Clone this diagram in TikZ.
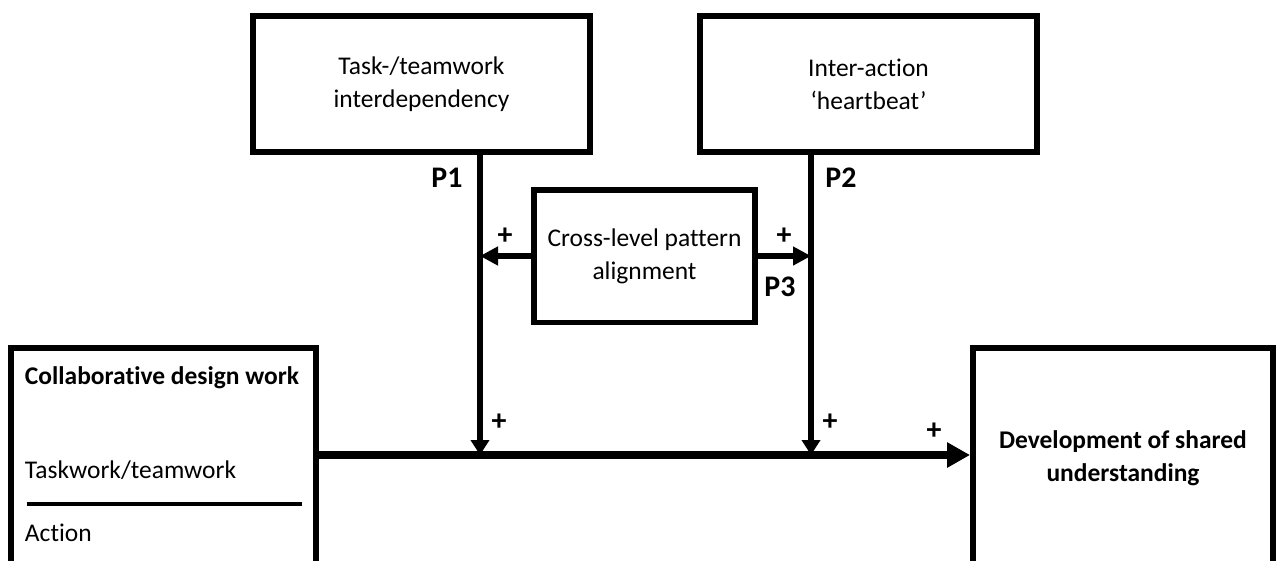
\documentclass[tikz,border=0pt]{standalone}
\usepackage{fontspec}
\setmainfont{Carlito}[Ligatures=NoCommon]
\usetikzlibrary{positioning}
\usetikzlibrary{calc}
\usetikzlibrary{arrows.meta}

\begin{document}
\begin{tikzpicture} [x=0.02cm, y=-0.02cm, line width=3.4pt,
    font=\fontsize{14.5}{18.7}\selectfont,
    box/.style={draw, rectangle, align=center, inner sep=0pt},
    lbl/.style={inner sep=0pt, font=\bfseries\fontsize{17}{20}\selectfont},
    txt/.style={anchor=base west, inner sep=0pt},
    down/.style={-{Triangle[length=0.3cm, width=0.36cm]}},
    side/.style={-{Triangle[length=0.36cm, width=0.36cm]}},
    main/.style={line width=4.5pt, -{Triangle[length=0.46cm, width=0.48cm]}}]

\useasboundingbox (0,0) rectangle (1281,561);

\node [box, minimum width=6.74cm, minimum height=2.72cm] (T) at (421.5,84)
    {Task-/teamwork\\interdependency};
\node [box, minimum width=6.74cm, minimum height=2.72cm] (H) at (868.5,84)
    {Inter-action\\‘heartbeat’};
\node [box, minimum width=4.42cm, minimum height=2.66cm] (A) at (644.5,256)
    {Cross-level pattern\\alignment};
\node [box, minimum width=6.1cm, minimum height=4.4cm] (C) at (163.5,458) {};
\node [box, minimum width=6cm, minimum height=4.4cm,
    font=\bfseries\fontsize{14.5}{18.7}\selectfont] (S) at (1123,458)
    {Development of shared\\understanding};

\node [txt, font=\bfseries\fontsize{14.5}{18.7}\selectfont] (Ch) at (22,384)
    {Collaborative design work};
\node [txt] (Ct) at (22,478) {Taskwork/teamwork};
\node [txt] (Ca) at (22,541) {Action};
\draw [line width=2.4pt] (27,504) -- (302,504);

\coordinate (J1) at (480,455);
\coordinate (J2) at (811,455);

\draw [down] (J1 |- T.south) -- (J1);
\draw [down] (J2 |- H.south) -- (J2);
\draw [side] (A.west) -- (A.west -| J1);
\draw [side] (A.east) -- (A.east -| J2);
\draw [main] (C.east |- J1) -- (S.west |- J1);

\node [lbl] (P1) at (447,178) {P1};
\node [lbl] (P2) at (841,178) {P2};
\node [lbl] (P3) at (780,287) {P3};

\node [lbl] (a1) at (505,236) {+};
\node [lbl] (a2) at (784,236) {+};
\node [lbl] (b1) at (499,422) {+};
\node [lbl] (b2) at (830,422) {+};
\node [lbl] (b3) at (934,431) {+};

\end{tikzpicture}
\end{document}
